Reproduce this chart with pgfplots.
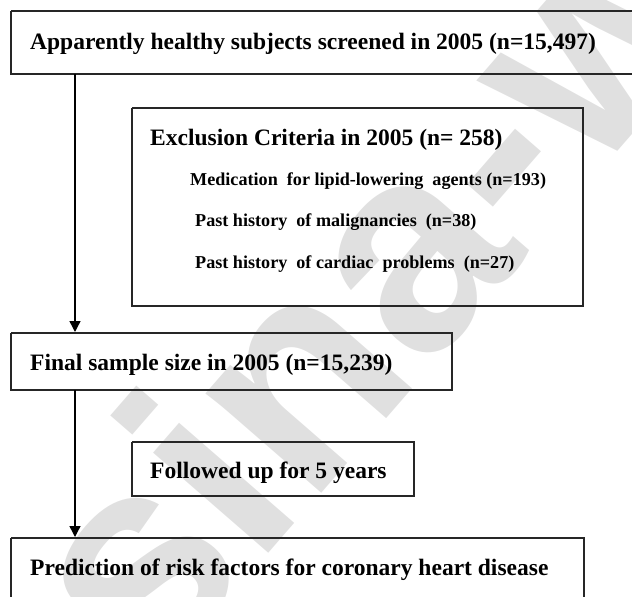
\documentclass[border=0pt]{standalone}
\usepackage{fontspec}
\setmainfont{Liberation Serif}
\setsansfont{Liberation Sans}
\usepackage{pgfplots}
\pgfplotsset{compat=1.18}
\usetikzlibrary{arrows.meta}
\begin{document}
\begin{tikzpicture}
\begin{axis}[
  width=632bp, height=597bp, scale only axis,
  xmin=0, xmax=632, ymin=0, ymax=597, y dir=reverse,
  xtick=\empty, ytick=\empty, axis line style={draw=none},
  clip=true,
]
% watermark
\node[rotate=49, anchor=base west, text=black!12, font=\sffamily\bfseries\fontsize{290}{290}\selectfont, inner sep=0] at (axis cs:150,690) {sina-web};
% boxes
\pgfplotsset{every axis plot/.append style={line width=1.7bp, black!85, line join=miter}}
\addplot[sharp plot] coordinates {(11,11) (700,11) (700,74) (11,74) (11,11)};
\addplot[sharp plot] coordinates {(132,108) (583,108) (583,306) (132,306) (132,108)};
\addplot[sharp plot] coordinates {(11,333) (452,333) (452,390) (11,390) (11,333)};
\addplot[sharp plot] coordinates {(132,442) (414,442) (414,496) (132,496) (132,442)};
\addplot[sharp plot] coordinates {(11,538) (584,538) (584,700) (11,700) (11,538)};
% arrows
\addplot[-{Triangle[length=11bp,width=11bp]}, line width=1.4bp, black] coordinates {(75,74) (75,332)};
\addplot[-{Triangle[length=11bp,width=11bp]}, line width=1.4bp, black] coordinates {(75,390) (75,537)};
% texts
\tikzset{lbl/.style={anchor=west, inner sep=0, text=black, font=\bfseries}}
\node[lbl, font=\bfseries\fontsize{23.6}{23.6}\selectfont] at (axis cs:30,44) {Apparently healthy subjects screened in 2005 (n=15,497)};
\node[lbl, font=\bfseries\fontsize{23.6}{23.6}\selectfont] at (axis cs:150,140) {Exclusion Criteria in 2005 (n= 258)};
\node[lbl, font=\bfseries\fontsize{18.2}{18.2}\selectfont] at (axis cs:190,181) {Medication\ \ for lipid-lowering\ \ agents (n=193)};
\node[lbl, font=\bfseries\fontsize{18.2}{18.2}\selectfont] at (axis cs:195,222) {Past history\ \ of malignancies\ \ (n=38)};
\node[lbl, font=\bfseries\fontsize{18.2}{18.2}\selectfont] at (axis cs:195,264) {Past history\ \ of cardiac\ \ problems\ \ (n=27)};
\node[lbl, font=\bfseries\fontsize{23.6}{23.6}\selectfont] at (axis cs:30,365) {Final sample size in 2005 (n=15,239)};
\node[lbl, font=\bfseries\fontsize{23.6}{23.6}\selectfont] at (axis cs:150,473) {Followed up for 5 years};
\node[lbl, font=\bfseries\fontsize{23.6}{23.6}\selectfont] at (axis cs:30,570) {Prediction of risk factors for coronary heart disease};
\end{axis}
\end{tikzpicture}
\end{document}
